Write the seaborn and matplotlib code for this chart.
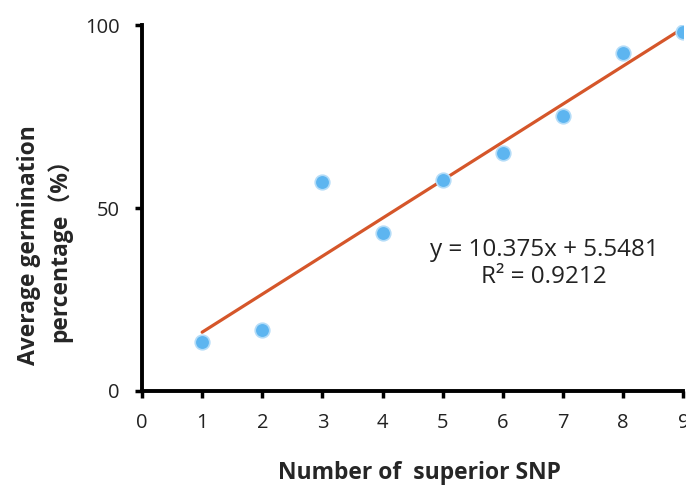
import matplotlib
matplotlib.use('Agg')
import matplotlib.pyplot as plt
import seaborn as sns
import pandas as pd

# data
snp_count = [1, 2, 3, 4, 5, 6, 7, 8, 9]
germination = [13.4, 16.7, 57.1, 43.2, 57.7, 65.0, 75.1, 92.3, 98.1]
x_ticks = [0, 1, 2, 3, 4, 5, 6, 7, 8, 9]
y_ticks = [0, 50, 100]
eq_text = 'y = 10.375x + 5.5481\nR² = 0.9212'

df = pd.DataFrame({'snp': snp_count, 'germ': germination})

sns.set_style('ticks')
plt.rcParams['font.family'] = ['Open Sans', 'Noto Sans CJK SC', 'DejaVu Sans']

fig = plt.figure(figsize=(6.86, 4.86), dpi=100)
ax = fig.add_axes([0.207, 0.1955, 0.789, 0.753])

sns.regplot(data=df, x='snp', y='germ', ci=None, ax=ax, truncate=True,
            scatter_kws=dict(s=110, color='#5db5f0', edgecolors='#b3dcf8',
                             linewidths=1.2, alpha=1, zorder=3),
            line_kws=dict(color='#d5562a', lw=2.3, zorder=2))

ax.set_xlim(0, 9)
ax.set_ylim(0, 100)
ax.set_xticks(x_ticks)
ax.set_yticks(y_ticks)
ax.tick_params(axis='both', labelsize=14.5, width=2.5, length=5, color='black',
               labelcolor='#222222')
ax.tick_params(axis='x', pad=11)
ax.tick_params(axis='y', pad=11)
for s in ['top', 'right']:
    ax.spines[s].set_visible(False)
for s in ['left', 'bottom']:
    ax.spines[s].set_linewidth(2.8)
    ax.spines[s].set_color('black')

ax.set_xlabel('Number of  superior SNP', fontsize=16.5, fontweight='bold')
ax.xaxis.set_label_coords(0.512, -0.19)
ax.set_ylabel('Average germination\npercentage（%）', fontsize=16.5,
              fontweight='bold', linespacing=1.3)
ax.yaxis.set_label_coords(-0.129, 0.40)

ax.text(6.69, 34.8, eq_text, ha='center', va='center', fontsize=17.5,
        color='#222222', linespacing=1.15)

fig.savefig('out.png', dpi=100)
